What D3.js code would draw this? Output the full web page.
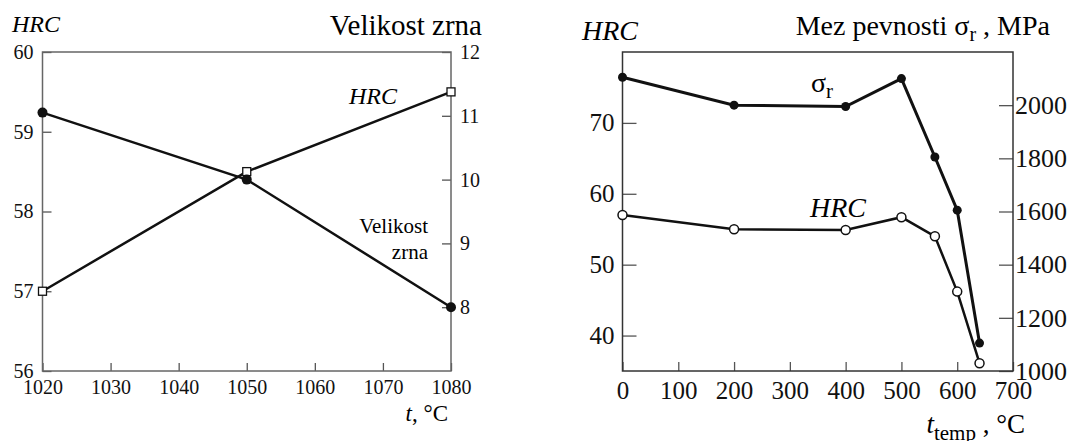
<!DOCTYPE html>
<html>
<head>
<meta charset="utf-8">
<script src="https://cdn.jsdelivr.net/npm/d3@7"></script>
<style>
  body { margin: 0; background: #fff; }
  .tick line { stroke: #555; stroke-width: 1.3; }
  .domain { display: none; }
</style>
</head>
<body>
<div id="chart"></div>
<script>
// Left chart: hardening temperature
var hardTemp = [1020, 1050, 1080];
var hardHRC = [57, 58.5, 59.5];
var grainSize = [11.05, 10, 8];
var hardXTicks = [1020, 1030, 1040, 1050, 1060, 1070, 1080];
var hardHRCTicks = [56, 57, 58, 59, 60];
var grainTicks = [8, 9, 10, 11, 12];

// Right chart: tempering temperature
var tempTemp = [0, 200, 400, 500, 560, 600, 640];
var strength = [2105, 2000, 1995, 2100, 1805, 1605, 1105];
var tempHRC = [57, 55, 54.9, 56.7, 54, 46.2, 36.1];
var tempXTicks = [0, 100, 200, 300, 400, 500, 600, 700];
var tempHRCTicks = [40, 50, 60, 70];
var strengthTicks = [1000, 1200, 1400, 1600, 1800, 2000];

var serif = "Liberation Serif";
var fmt = d3.format("d");

var svg = d3.select("#chart").append("svg")
  .attr("width", 1073)
  .attr("height", 441)
  .attr("font-family", serif)
  .style("font-family", serif);

// style tick labels of an axis group
function styleTicks(sel, size) {
  sel.attr("font-family", serif);
  sel.selectAll("text")
    .attr("font-size", size)
    .attr("fill", "#111");
}

// ---------- left chart ----------
var L = { left: 42.5, right: 451, top: 52, bottom: 371 };
var g1 = svg.append("g");

var x1 = d3.scaleLinear().domain([1020, 1080]).range([L.left, L.right]);
var y1 = d3.scaleLinear().domain([56, 60]).range([L.bottom, L.top]);
var y1r = d3.scaleLinear().domain([7, 12]).range([L.bottom, L.top]);

g1.append("g")
  .attr("transform", `translate(0, ${L.bottom})`)
  .call(d3.axisBottom(x1).tickValues(hardXTicks).tickFormat(fmt).tickSizeInner(-8).tickSizeOuter(0).tickPadding(9))
  .call(styleTicks, 20);

g1.append("g")
  .attr("transform", `translate(${L.left}, 0)`)
  .call(d3.axisLeft(y1).tickValues(hardHRCTicks).tickFormat(fmt).tickSizeInner(-9).tickSizeOuter(0).tickPadding(9))
  .call(styleTicks, 20);

g1.append("g")
  .attr("transform", `translate(${L.right}, 0)`)
  .call(d3.axisRight(y1r).tickValues(grainTicks).tickFormat(fmt).tickSizeInner(-9).tickSizeOuter(0).tickPadding(9))
  .call(styleTicks, 20);

g1.append("rect")
  .attr("x", L.left).attr("y", L.top)
  .attr("width", L.right - L.left).attr("height", L.bottom - L.top)
  .attr("fill", "none").attr("stroke", "#666").attr("stroke-width", 1.5);

var hrcLine1 = d3.line().x((d, i) => x1(hardTemp[i])).y(d => y1(d));
var grainLine = d3.line().x((d, i) => x1(hardTemp[i])).y(d => y1r(d));

g1.append("path").datum(hardHRC).attr("d", hrcLine1)
  .attr("fill", "none").attr("stroke", "#111").attr("stroke-width", 2.5);
g1.append("path").datum(grainSize).attr("d", grainLine)
  .attr("fill", "none").attr("stroke", "#111").attr("stroke-width", 2.5);

g1.selectAll(".sq").data(hardHRC).enter().append("rect")
  .attr("x", (d, i) => x1(hardTemp[i]) - 4)
  .attr("y", d => y1(d) - 4)
  .attr("width", 8).attr("height", 8)
  .attr("fill", "#fff").attr("stroke", "#111").attr("stroke-width", 1.3);

g1.selectAll(".dot").data(grainSize).enter().append("circle")
  .attr("cx", (d, i) => x1(hardTemp[i]))
  .attr("cy", d => y1r(d))
  .attr("r", 5).attr("fill", "#111");

g1.append("text").attr("x", 12).attr("y", 32)
  .attr("font-size", 24).attr("font-style", "italic").text("HRC");
g1.append("text").attr("x", 482).attr("y", 35).attr("text-anchor", "end")
  .attr("font-size", 29).text("Velikost zrna");
g1.append("text").attr("x", 349).attr("y", 104)
  .attr("font-size", 24).attr("font-style", "italic").text("HRC");
g1.append("text").attr("x", 428).attr("y", 233).attr("text-anchor", "end")
  .attr("font-size", 21).text("Velikost");
g1.append("text").attr("x", 428).attr("y", 259).attr("text-anchor", "end")
  .attr("font-size", 21).text("zrna");
var tl = g1.append("text").attr("x", 448).attr("y", 421).attr("text-anchor", "end")
  .attr("font-size", 23);
tl.append("tspan").attr("font-style", "italic").text("t");
tl.append("tspan").text(", °C");

// ---------- right chart ----------
var R = { left: 622.5, right: 1013, top: 52, bottom: 371 };
var g2 = svg.append("g");

var x2 = d3.scaleLinear().domain([0, 700]).range([R.left, R.right]);
var y2 = d3.scaleLinear().domain([35, 80]).range([R.bottom, R.top]);
var y2r = d3.scaleLinear().domain([1000, 2200]).range([R.bottom, R.top]);

g2.append("g")
  .attr("transform", `translate(0, ${R.bottom})`)
  .call(d3.axisBottom(x2).tickValues(tempXTicks).tickFormat(fmt).tickSizeInner(-9).tickSizeOuter(0).tickPadding(10))
  .call(styleTicks, 25);

g2.append("g")
  .attr("transform", `translate(${R.left}, 0)`)
  .call(d3.axisLeft(y2).tickValues(tempHRCTicks).tickFormat(fmt).tickSizeInner(-14).tickSizeOuter(0).tickPadding(8))
  .call(styleTicks, 25);

g2.append("g")
  .attr("transform", `translate(${R.right}, 0)`)
  .call(d3.axisRight(y2r).tickValues(strengthTicks).tickFormat(fmt).tickSizeInner(-14).tickSizeOuter(0).tickPadding(2))
  .call(styleTicks, 26);

g2.append("rect")
  .attr("x", R.left).attr("y", R.top)
  .attr("width", R.right - R.left).attr("height", R.bottom - R.top)
  .attr("fill", "none").attr("stroke", "#333").attr("stroke-width", 1.5);

var strengthLine = d3.line().x((d, i) => x2(tempTemp[i])).y(d => y2r(d));
var hrcLine2 = d3.line().x((d, i) => x2(tempTemp[i])).y(d => y2(d));

g2.append("path").datum(strength).attr("d", strengthLine)
  .attr("fill", "none").attr("stroke", "#111").attr("stroke-width", 3);
g2.append("path").datum(tempHRC).attr("d", hrcLine2)
  .attr("fill", "none").attr("stroke", "#111").attr("stroke-width", 2.5);

g2.selectAll(".sdot").data(strength).enter().append("circle")
  .attr("cx", (d, i) => x2(tempTemp[i]))
  .attr("cy", d => y2r(d))
  .attr("r", 4.5).attr("fill", "#111");

g2.selectAll(".hdot").data(tempHRC).enter().append("circle")
  .attr("cx", (d, i) => x2(tempTemp[i]))
  .attr("cy", d => y2(d))
  .attr("r", 4.5).attr("fill", "#fff").attr("stroke", "#111").attr("stroke-width", 1.5);

g2.append("text").attr("x", 582).attr("y", 40)
  .attr("font-size", 28).attr("font-style", "italic").text("HRC");

var title = g2.append("text").attr("x", 1050).attr("y", 35).attr("text-anchor", "end")
  .attr("font-size", 28);
title.append("tspan").text("Mez pevnosti σ");
title.append("tspan").attr("font-size", 20).attr("dy", 6).text("r");
title.append("tspan").attr("dy", -6).text(" , MPa");

var sig = g2.append("text").attr("x", 811).attr("y", 92).attr("font-size", 28);
sig.append("tspan").text("σ");
sig.append("tspan").attr("font-size", 21).attr("dy", 6).text("r");

g2.append("text").attr("x", 810).attr("y", 217)
  .attr("font-size", 28).attr("font-style", "italic").text("HRC");

var tt = g2.append("text").attr("x", 1025).attr("y", 433).attr("text-anchor", "end")
  .attr("font-size", 27);
tt.append("tspan").attr("font-style", "italic").text("t");
tt.append("tspan").attr("font-size", 21).attr("dy", 7).text("temp");
tt.append("tspan").attr("dy", -7).text(" , °C");
</script>
</body>
</html>
